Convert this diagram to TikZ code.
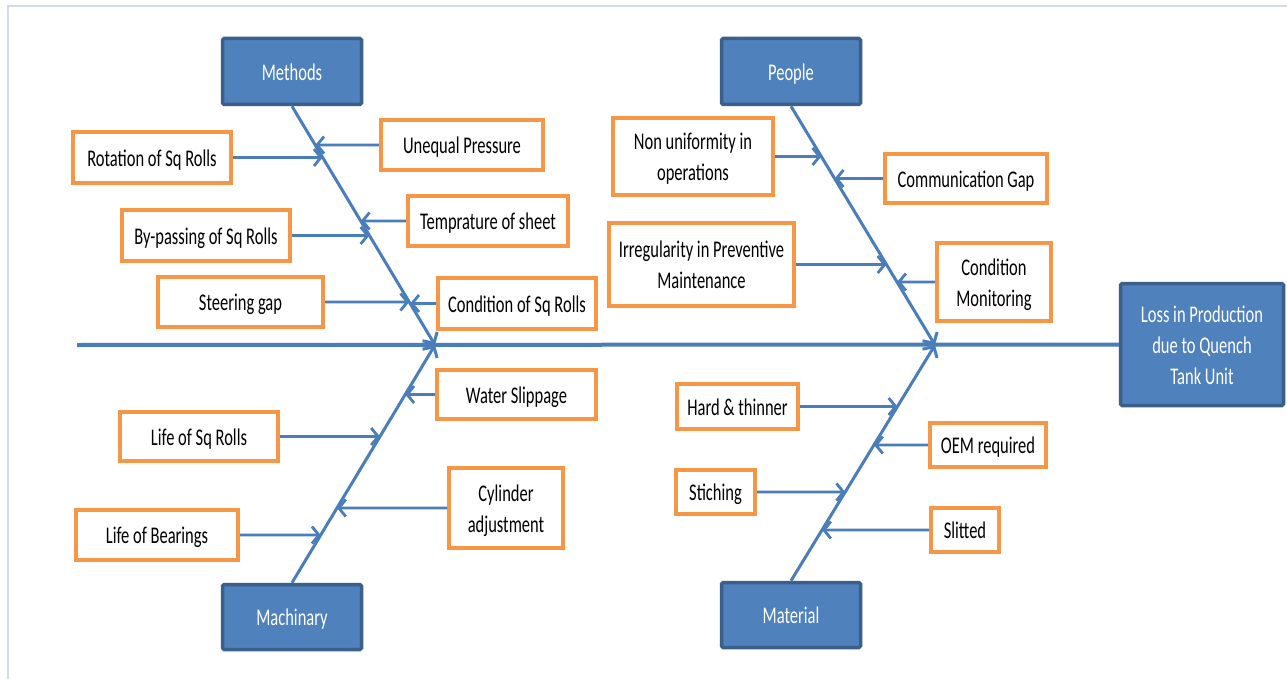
\documentclass[tikz,border=0pt]{standalone}
\usepackage{fontspec}
\setmainfont{Carlito}
\usepackage{graphicx}
\usetikzlibrary{arrows.meta}
\definecolor{bline}{HTML}{4A7EBB}
\definecolor{bfill}{HTML}{4F81BD}
\definecolor{bdark}{HTML}{3A5F8B}
\definecolor{corange}{HTML}{F79646}
\definecolor{frame}{HTML}{D3DBE8}
\newcommand\ys[1]{\raisebox{-2.5pt}[\height][\depth]{\scalebox{1}[1.45]{\begin{tabular}{@{}c@{}}#1\end{tabular}}}}
\begin{document}
\begin{tikzpicture}[x=1pt,y=-1pt,
  font=\fontsize{16.5}{21.5}\selectfont,
  sz/.style 2 args={minimum width=#1pt,minimum height=#2pt},
  cause/.style={draw=corange, line width=4pt, fill=white, inner sep=0pt, text=black},
  cat/.style={draw=bdark, fill=bfill, line width=3.5pt, rounded corners=1.5pt, inner sep=0pt, text=white},
  arr/.style={draw=bline, line width=2.8pt, -{Straight Barb[length=7pt,width=17pt,line width=2.8pt]}},
  bone/.style={draw=bline, line width=3pt, -{Straight Barb[length=8pt,width=17pt,line width=3pt]}},
  spine/.style={draw=bline, line width=4pt}]
\useasboundingbox (0,0) rectangle (1287,679);
\fill[white] (0,0) rectangle (1287,679);
\draw[frame, line width=2pt] (8,679) -- (8,6) -- (1287,6);

% category boxes
\node[cat, sz={139}{66}] (meth) at (292,71.5) {\ys{Methods}};
\node[cat, sz={139}{66}] (peop) at (791,71.5) {\ys{People}};
\node[cat, sz={139}{65}] (mach) at (292,617) {\ys{Machinary}};
\node[cat, sz={139}{65}] (matl) at (791,615) {\ys{Material}};
\node[cat, sz={163}{122}] (eff) at (1202,344.5) {\ys{Loss in Production\\due to Quench\\Tank Unit}};

% cause boxes
\node[cause, sz={158}{51}] (rot) at (152,157.5) {\ys{Rotation of Sq Rolls}};
\node[cause, sz={162}{50}] (uneq) at (462,145) {\ys{Unequal Pressure}};
\node[cause, sz={168}{51}] (byp) at (206,235.5) {\ys{By-passing of Sq Rolls}};
\node[cause, sz={160}{50}] (temp) at (488,221) {\ys{Temprature of sheet}};
\node[cause, sz={165}{50}] (steer) at (240.5,302) {\ys{Steering gap}};
\node[cause, sz={158}{51}] (cond) at (517,303.5) {\ys{Condition of Sq Rolls}};
\node[cause, sz={159}{49}] (water) at (516.5,394.5) {\ys{Water Slippage}};
\node[cause, sz={158}{49}] (lifesq) at (199,436.5) {\ys{Life of Sq Rolls}};
\node[cause, sz={114}{80}] (cyl) at (506,508) {\ys{Cylinder\\adjustment}};
\node[cause, sz={162}{50}] (lifeb) at (157,535) {\ys{Life of Bearings}};
\node[cause, sz={160}{77}] (nonu) at (693,156.5) {\ys{Non uniformity in\\operations}};
\node[cause, sz={162}{49}] (comm) at (966,178.5) {\ys{Communication Gap}};
\node[cause, sz={185}{83}] (irreg) at (701.5,264.5) {\ys{Irregularity in Preventive\\Maintenance}};
\node[cause, sz={114}{78}] (condmon) at (994,282) {\ys{Condition\\Monitoring}};
\node[cause, sz={121}{45}] (hard) at (737.5,406.5) {\ys{Hard \& thinner}};
\node[cause, sz={116}{44}] (oem) at (988,445) {\ys{OEM required}};
\node[cause, sz={79}{44}] (stich) at (715.5,492) {\ys{Stiching}};
\node[cause, sz={68}{44}] (slit) at (965,530) {\ys{Slitted}};

% spine and bones
\coordinate (tail) at (77,345);
\coordinate (jl) at (435,345);
\coordinate (jr) at (935,345);
\draw[spine] (tail) -- (eff.west);
\draw[bone] (meth.south) -- (jl);
\draw[bone] (mach.north) -- (jl);
\draw[bone] (peop.south) -- (jr);
\draw[bone] (matl.north) -- (jr);

% cause arrows
\draw[arr] (rot.east) -- (intersection of rot.east--rot.west and meth.south--jl);
\draw[arr] (uneq.west) -- (intersection of uneq.east--uneq.west and meth.south--jl);
\draw[arr] (byp.east) -- (intersection of byp.east--byp.west and meth.south--jl);
\draw[arr] (temp.west) -- (intersection of temp.east--temp.west and meth.south--jl);
\draw[arr] (steer.east) -- (intersection of steer.east--steer.west and meth.south--jl);
\draw[arr] (cond.west) -- (intersection of cond.east--cond.west and meth.south--jl);

\draw[arr] (water.west) -- (intersection of water.east--water.west and mach.north--jl);
\draw[arr] (lifesq.east) -- (intersection of lifesq.east--lifesq.west and mach.north--jl);
\draw[arr] (cyl.west) -- (intersection of cyl.east--cyl.west and mach.north--jl);
\draw[arr] (lifeb.east) -- (intersection of lifeb.east--lifeb.west and mach.north--jl);

\draw[arr] (nonu.east) -- (intersection of nonu.east--nonu.west and peop.south--jr);
\draw[arr] (comm.west) -- (intersection of comm.east--comm.west and peop.south--jr);
\draw[arr] (irreg.east) -- (intersection of irreg.east--irreg.west and peop.south--jr);
\draw[arr] (condmon.west) -- (intersection of condmon.east--condmon.west and peop.south--jr);

\draw[arr] (hard.east) -- (intersection of hard.east--hard.west and matl.north--jr);
\draw[arr] (oem.west) -- (intersection of oem.east--oem.west and matl.north--jr);
\draw[arr] (stich.east) -- (intersection of stich.east--stich.west and matl.north--jr);
\draw[arr] (slit.west) -- (intersection of slit.east--slit.west and matl.north--jr);
\end{tikzpicture}
\end{document}
